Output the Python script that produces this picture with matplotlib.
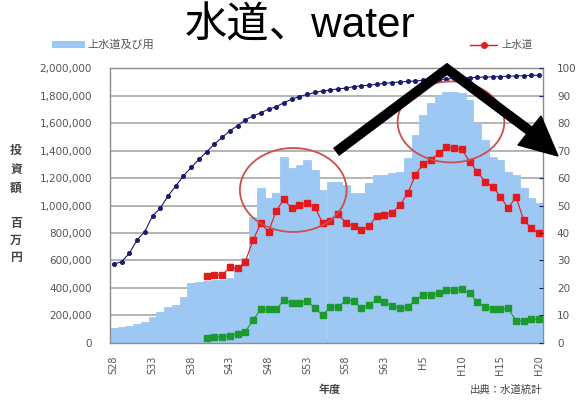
"""Water supply investment by fiscal year with coverage rate (S28-H20)."""

import matplotlib
matplotlib.use("Agg")
import matplotlib.pyplot as plt
import matplotlib.patches as mpatches
from matplotlib.lines import Line2D
import numpy as np

plt.rcParams["font.family"] = ["DejaVu Sans", "Noto Sans CJK JP"]

# --- Data (百万円 / %) ---
# fiscal years S28 (1953) .. H20 (2008)
years = list(range(1953, 2009))
tick_labels = ["S28", "S33", "S38", "S43", "S48", "S53",
               "S58", "S63", "H5", "H10", "H15", "H20"]

# 上水道及び用水供給事業 total investment
invest_total = [
    104000, 117000, 124000, 134000, 153000, 190000, 226000, 258000,
    275000, 330000, 437000, 445000, 450000, 455000, 460000, 470000,
    550000, 620000, 919000, 1125000, 1052000, 1089000, 1356000, 1271000,
    1295000, 1332000, 1259000, 1113000, 1174000, 1174000, 1150000, 1089000,
    1089000, 1162000, 1222000, 1222000, 1235000, 1247000, 1344000, 1514000,
    1660000, 1745000, 1806000, 1830000, 1830000, 1818000, 1769000, 1599000,
    1477000, 1356000, 1332000, 1247000, 1222000, 1125000, 1052000, 1016000,
]

# 上水道 (from S40)
invest_water = [np.nan] * 12 + [
    486000, 493000, 493000, 549000, 542000, 591000, 748000, 870000,
    809000, 962000, 1045000, 979000, 1004000, 1021000, 991000, 870000,
    889000, 938000, 875000, 851000, 821000, 851000, 923000, 931000,
    948000, 1004000, 1089000, 1222000, 1303000, 1332000, 1380000, 1424000,
    1417000, 1410000, 1320000, 1247000, 1174000, 1137000, 1064000, 979000,
    1064000, 894000, 833000, 797000,
]

# 用水供給 (from S40)
invest_bulk = [np.nan] * 12 + [
    32000, 39000, 44000, 49000, 63000, 80000, 165000, 243000,
    243000, 243000, 311000, 287000, 287000, 306000, 250000, 202000,
    258000, 258000, 311000, 306000, 250000, 275000, 316000, 299000,
    267000, 250000, 258000, 311000, 348000, 348000, 360000, 384000,
    384000, 389000, 360000, 299000, 262000, 243000, 243000, 250000,
    160000, 160000, 170000, 170000,
]

# 普及率 (%)
coverage = [
    28.7, 29.5, 32.6, 37.4, 40.5, 46.2, 49.0, 53.5, 57.1, 60.8,
    63.9, 66.8, 69.6, 72.4, 74.8, 77.2, 79.1, 81.2, 82.6, 83.8,
    85.1, 86.0, 87.5, 88.7, 89.7, 90.5, 91.2, 91.7, 92.1, 92.5,
    92.8, 93.3, 93.6, 93.8, 94.2, 94.5, 94.8, 95.0, 95.2, 95.4,
    95.6, 95.8, 95.9, 96.1, 96.3, 96.4, 96.6, 96.7, 96.8, 96.9,
    97.0, 97.1, 97.2, 97.3, 97.4, 97.5,
]

# --- Styling ---
BAR_BLUE = "#9DC8F4"
RED = "#E3191C"
GREEN = "#1C9A2E"
NAVY = "#1B1A6E"
GRID = "#A8A8A8"
TEXT = "#555555"
RING = "#C9504C"

W, H = 581, 403


def px(x, y):
    """Pixel position (from top-left) to figure fraction."""
    return x / W, 1 - y / H


def main():
    fig = plt.figure(figsize=(W / 100, H / 100), dpi=100)
    fig.patch.set_facecolor("white")
    ax = fig.add_axes([110 / W, 1 - 342.7 / H, 433 / W, 274.4 / H])

    x = np.arange(len(years))
    ax.bar(x, invest_total, width=1.0, color=BAR_BLUE, edgecolor=BAR_BLUE,
           linewidth=0.6, zorder=2)
    ax.plot(x, invest_water, color=RED, lw=0.8, marker="s", ms=3.8,
            mec=RED, zorder=4)
    ax.plot(x, invest_bulk, color=GREEN, lw=0.8, marker="s", ms=3.8,
            mec=GREEN, zorder=4)

    ax.set_xlim(-0.5, len(years) - 0.5)
    ax.set_ylim(0, 2000000)
    ax.set_yticks(np.arange(0, 2000001, 200000))
    ax.set_yticklabels([f"{v:,}" for v in range(0, 2000001, 200000)])
    ax.yaxis.grid(True, color=GRID, lw=1.2, zorder=0)
    ax.set_axisbelow(True)

    ax.set_xticks(x[::5])
    ax.set_xticklabels(tick_labels, rotation=90)
    ax.set_xticks(np.arange(-0.5, len(years), 1), minor=True)
    ax.tick_params(axis="x", which="major", length=0, pad=9,
                   labelsize=7, labelcolor=TEXT)
    ax.tick_params(axis="x", which="minor", direction="in", length=3,
                   color=NAVY, width=0.8)
    ax.tick_params(axis="y", length=0, pad=13, labelsize=7.5,
                   labelcolor=TEXT)
    for s in ax.spines.values():
        s.set_color("#8C8C8C")
        s.set_linewidth(1.0)

    # coverage rate on the right axis
    ax2 = ax.twinx()
    ax2.plot(x, coverage, color=NAVY, lw=0.8, marker="o", ms=2.6,
             zorder=5)
    ax2.set_ylim(0, 100)
    ax2.set_yticks(np.arange(0, 101, 10))
    ax2.tick_params(axis="y", direction="in", length=3, color=NAVY,
                    pad=10, labelsize=7.5, labelcolor=TEXT)
    for s in ax2.spines.values():
        s.set_visible(False)

    # highlight rings around the two investment peaks
    for cx, cy, w, h in [(23.2, 1113000, 13.8, 612000),
                         (43.6, 1609000, 13.8, 590000)]:
        ax2.add_patch(mpatches.Ellipse(
            (cx, cy / 20000), w, h / 20000, fill=False,
            edgecolor=RING, lw=1.3, zorder=6))

    # axis labels and source
    for ch, yy in zip("投資額百万円", [150, 169, 188, 223, 240, 257]):
        fig.text(*px(16, yy), ch, ha="center", va="center", fontsize=8.5,
                 fontweight="bold", color="#444444")
    fig.text(*px(330, 390), "年度", ha="center", va="center",
             fontsize=8, fontweight="bold", color="#444444")
    fig.text(*px(506, 390), "出典：水道統計", ha="center", va="center",
             fontsize=7.5, color="#444444")

    # legend entries (left label runs under the title band)
    fig.add_artist(mpatches.Rectangle(px(52, 48), 33 / W, 7 / H,
                                      transform=fig.transFigure,
                                      color=BAR_BLUE, lw=0))
    fig.text(*px(87, 45), "上水道及び用", ha="left", va="center",
             fontsize=8, color=TEXT)
    fig.add_artist(Line2D([470 / W, 497 / W], [1 - 45 / H] * 2,
                          color=RED, lw=1.0, transform=fig.transFigure))
    fig.add_artist(Line2D([483.5 / W], [1 - 45 / H], color=RED, marker="o",
                          ms=4, transform=fig.transFigure))
    fig.text(*px(501, 45), "上水道", ha="left", va="center",
             fontsize=7.5, color=TEXT)

    # title on a white band
    fig.add_artist(mpatches.Rectangle(px(158, 56), 282 / W, 56 / H,
                                      transform=fig.transFigure,
                                      color="white", lw=0, zorder=9))
    fig.text(*px(300, 27), "水道、water", ha="center", va="center",
             fontsize=30.5, family=["Liberation Sans", "Noto Sans CJK JP"],
             color="black", zorder=10)

    # rise-and-fall arrow
    sx, sy = zip(*[px(336, 152), px(447, 69), px(530, 131)])
    fig.add_artist(Line2D(sx, sy, color="black", lw=7.2,
                          solid_joinstyle="miter", solid_capstyle="butt",
                          transform=fig.transFigure, zorder=11))
    head = [px(518, 145), px(541, 116), px(558, 156)]
    fig.add_artist(mpatches.Polygon(head, closed=True, color="black",
                                    transform=fig.transFigure, zorder=11))

    fig.savefig("out.png", dpi=100, facecolor="white")
    plt.close(fig)


if __name__ == "__main__":
    main()
